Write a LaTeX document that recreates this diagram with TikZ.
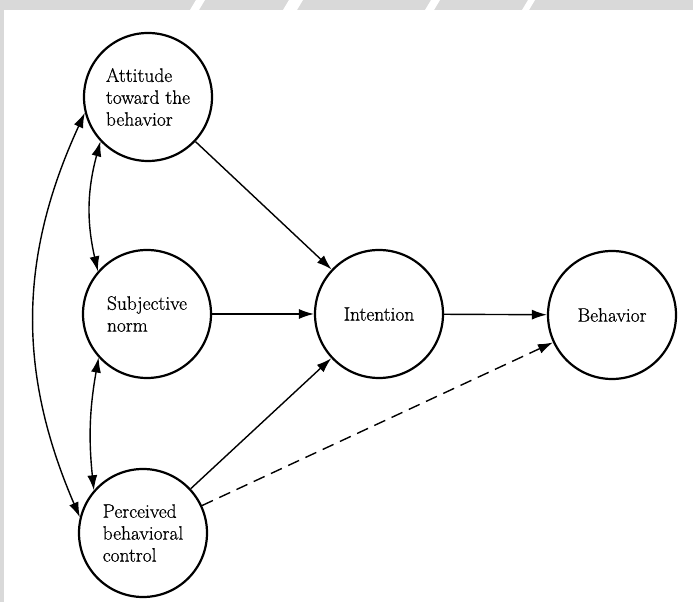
\documentclass[tikz,border=0pt]{standalone}
\usepackage{fontspec}
\newfontfamily\scanfont{Latin Modern Roman}[FakeBold=0.7]
\usetikzlibrary{arrows.meta}
\usepackage{xcolor}
\definecolor{scangrey}{HTML}{D9D9D9}

\begin{document}
\begin{tikzpicture}[x=1bp, y=1bp,
    factor/.style={circle, draw, line width=2.2bp, minimum size=128bp,
      inner sep=0pt, align=left, font=\scanfont\fontsize{19.5}{22}\selectfont},
    arr/.style={-{Latex[length=15bp, width=10bp]}, line width=1.4bp},
    biarr/.style={{Latex[length=15bp, width=10bp]}-{Latex[length=15bp, width=10bp]},
      line width=1.4bp},
    dasharr/.style={arr, dash pattern=on 12bp off 7bp},
  ]

  % Page frame
  \useasboundingbox (0,0) rectangle (693,602);

  % Grey scan band at the top and the left
  \fill[scangrey] (0,592) rectangle (693,602);
  \fill[scangrey] (0,0) rectangle (4,602);
  \fill[white] (190,592) -- (199,592) -- (205,602) -- (196,602) -- cycle;
  \fill[white] (283,592) -- (297,592) -- (303,602) -- (289,602) -- cycle;
  \fill[white] (425,592) -- (434,592) -- (440,602) -- (431,602) -- cycle;
  \fill[white] (522,592) -- (529,592) -- (535,602) -- (528,602) -- cycle;

  % Determinants
  \node[factor] (att) at (148,505) {Attitude\\toward the\\behavior};
  \node[factor] (subj) at (147,288) {Subjective\\norm};
  \node[factor] (pbc) at (143,69) {Perceived\\behavioral\\control};

  % Intention and behavior
  \node[factor] (int) at (379,288) {Intention};
  \node[factor] (beh) at (612,287) {Behavior};

  % Paths to intention
  \draw[arr] (att) -- (int);
  \draw[arr] (subj) -- (int);
  \draw[arr] (pbc) -- (int);
  \draw[arr] (int) -- (beh);
  \draw[dasharr] (pbc) -- (beh);

  % Correlations among the determinants
  \draw[biarr] (att.223) to[bend right=14] (subj.139);
  \draw[biarr] (subj.222) to[bend right=8] (pbc.139);
  \draw[biarr] (att.194) to[bend right=24] (pbc.166);

\end{tikzpicture}
\end{document}
